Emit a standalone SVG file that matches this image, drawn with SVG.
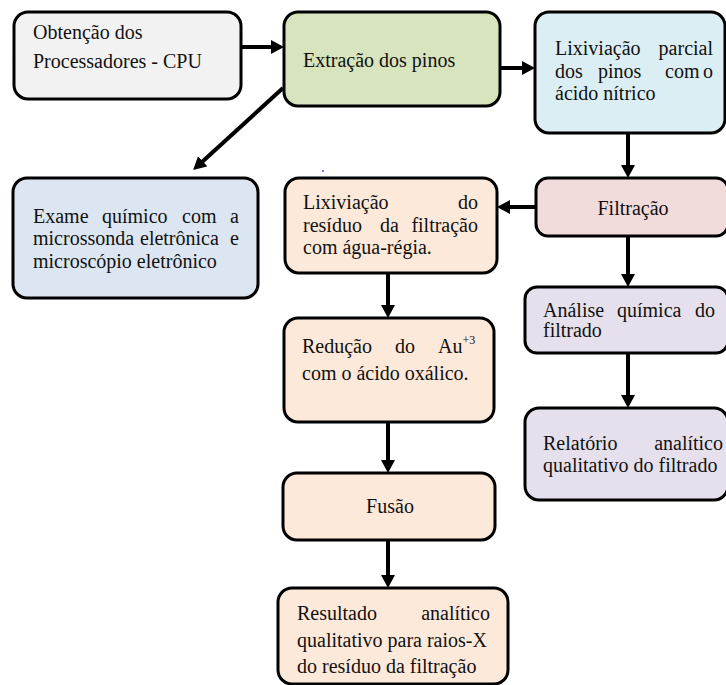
<svg xmlns="http://www.w3.org/2000/svg" width="726" height="685" viewBox="0 0 726 685">
<style>
.box{stroke:#000;stroke-width:3}
.t{font-family:"Liberation Serif","Times New Roman",serif;font-size:20px;fill:#111}
.e{text-anchor:end}
.m{text-anchor:middle}
.c{stroke:#000;stroke-width:4;fill:none}
</style>
<defs>
<marker id="ah" markerUnits="userSpaceOnUse" markerWidth="16" markerHeight="16" refX="1" refY="7" orient="auto">
<path d="M0,0 L13,7 L0,14 z" fill="#000"/>
</marker>
</defs>
<rect width="726" height="685" fill="#fff"/>
<g id="connectors">
<path class="c" d="M241,47 H272" marker-end="url(#ah)"/>
<path class="c" d="M500,68 H523" marker-end="url(#ah)"/>
<path class="c" d="M628,133 V166" marker-end="url(#ah)"/>
<path class="c" d="M536,207 H509" marker-end="url(#ah)"/>
<path class="c" d="M388,273 V306" marker-end="url(#ah)"/>
<path class="c" d="M388,422 V461" marker-end="url(#ah)"/>
<path class="c" d="M388,540 V576" marker-end="url(#ah)"/>
<path class="c" d="M628,236 V275" marker-end="url(#ah)"/>
<path class="c" d="M628,353 V396" marker-end="url(#ah)"/>
<path class="c" d="M283,88 L202,162" marker-end="url(#ah)"/>
</g>
<g id="n1">
<rect class="box" x="14" y="12" width="227" height="87" rx="14" fill="#f2f2f2"/>
<text class="t" x="33" y="39">Obtenção dos</text>
<text class="t" x="33" y="68">Processadores - CPU</text>
</g>
<g id="n2">
<rect class="box" x="284" y="12" width="216" height="94" rx="14" fill="#d7e4bd"/>
<text class="t" x="303" y="67">Extração dos pinos</text>
</g>
<g id="n3">
<rect class="box" x="535" y="12" width="190" height="121" rx="14" fill="#dbeef4"/>
<text class="t" x="555" y="55">Lixiviação</text>
<text class="t e" x="713" y="55">parcial</text>
<text class="t" x="555" y="78">dos</text>
<text class="t" x="598" y="78">pinos</text>
<text class="t" x="665" y="78">com</text>
<text class="t e" x="713" y="78">o</text>
<text class="t" x="555" y="100">ácido nítrico</text>
</g>
<g id="n4">
<rect class="box" x="13" y="178" width="245" height="120" rx="14" fill="#dce6f2"/>
<text class="t" x="33" y="223">Exame</text>
<text class="t" x="102" y="223">químico</text>
<text class="t" x="182" y="223">com</text>
<text class="t e" x="239" y="223">a</text>
<text class="t" x="33" y="245">microssonda</text>
<text class="t" x="140" y="245">eletrônica</text>
<text class="t e" x="239" y="245">e</text>
<text class="t" x="33" y="268">microscópio eletrônico</text>
</g>
<g id="n5">
<rect class="box" x="536" y="178" width="192" height="58" rx="12" fill="#f2dcdb"/>
<text class="t m" x="633" y="215">Filtração</text>
</g>
<g id="n6">
<rect class="box" x="285" y="178" width="212" height="95" rx="14" fill="#fde9d9"/>
<text class="t" x="303" y="209">Lixiviação</text>
<text class="t e" x="478" y="209">do</text>
<text class="t" x="303" y="232">resíduo</text>
<text class="t" x="380" y="232">da</text>
<text class="t e" x="478" y="232">filtração</text>
<text class="t" x="303" y="254">com água-régia.</text>
<circle cx="323" cy="171" r="1" fill="#4a4aff"/>
</g>
<g id="n7">
<rect class="box" x="284" y="318" width="210" height="104" rx="14" fill="#fde9d9"/>
<text class="t" x="302" y="353">Redução</text>
<text class="t" x="395" y="353">do</text>
<text class="t" x="438" y="353">Au<tspan font-size="12" dy="-9">+3</tspan></text>
<text class="t" x="302" y="380">com o ácido oxálico.</text>
</g>
<g id="n8">
<rect class="box" x="283" y="473" width="212" height="67" rx="14" fill="#fde9d9"/>
<text class="t m" x="390" y="513">Fusão</text>
</g>
<g id="n9">
<rect class="box" x="278" y="588" width="230" height="96" rx="14" fill="#fde9d9"/>
<text class="t" x="297" y="620">Resultado</text>
<text class="t e" x="490" y="620">analítico</text>
<text class="t" x="297" y="647">qualitativo para raios-X</text>
<text class="t" x="297" y="673">do resíduo da filtração</text>
</g>
<g id="n10">
<rect class="box" x="525" y="287" width="203" height="66" rx="12" fill="#e5e0ec"/>
<text class="t" x="543" y="317">Análise</text>
<text class="t" x="617" y="317">química</text>
<text class="t e" x="715" y="317">do</text>
<text class="t" x="543" y="337">filtrado</text>
</g>
<g id="n11">
<rect class="box" x="525" y="408" width="203" height="92" rx="14" fill="#e5e0ec"/>
<text class="t" x="543" y="450">Relatório</text>
<text class="t e" x="723" y="450">analítico</text>
<text class="t" x="543" y="472">qualitativo do filtrado</text>
</g>
</svg>
